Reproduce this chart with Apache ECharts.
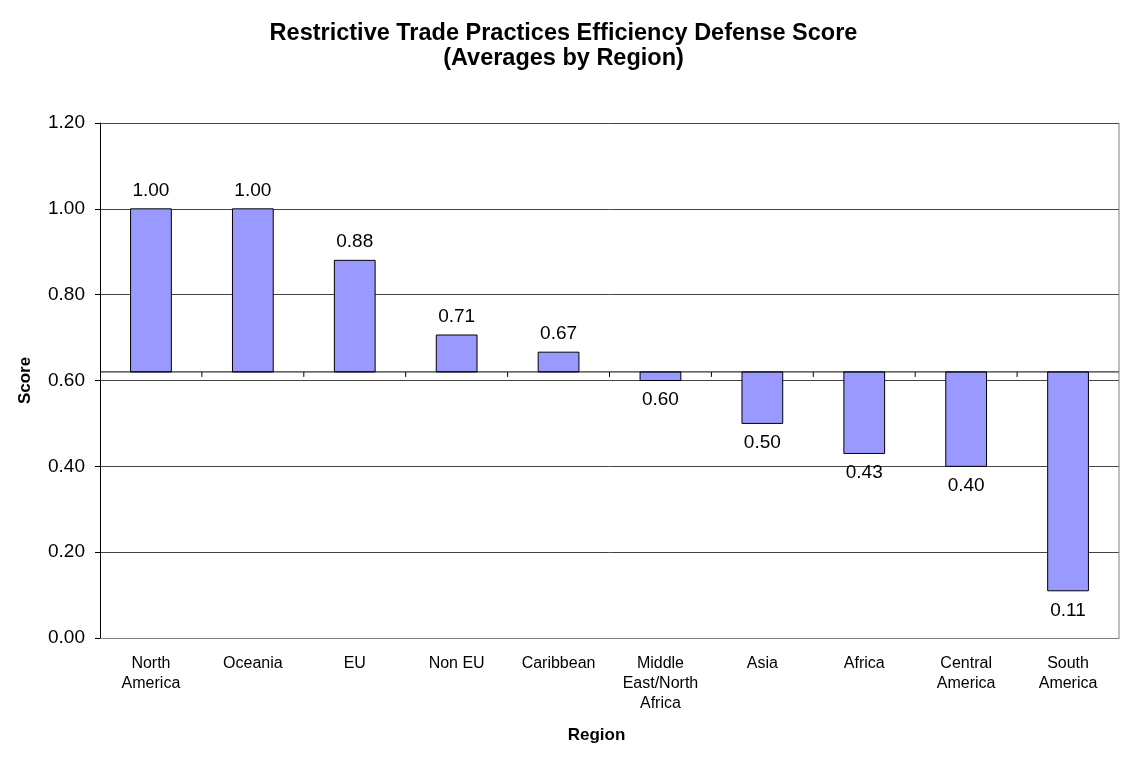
<!DOCTYPE html>
<html>
<head>
<meta charset="utf-8">
<title>Restrictive Trade Practices Efficiency Defense Score</title>
<script src="https://cdn.jsdelivr.net/npm/echarts@6/dist/echarts.min.js"></script>
<style>
  html, body { margin: 0; padding: 0; background: #fff; }
  #chart { width: 1127px; height: 761px; }
</style>
</head>
<body>
<div id="chart"></div>
<script>
// data
const regions = ['North\nAmerica', 'Oceania', 'EU', 'Non EU', 'Caribbean',
  'Middle\nEast/North\nAfrica', 'Asia', 'Africa', 'Central\nAmerica', 'South\nAmerica']
const scores = [1.00, 1.00, 0.88, 0.706, 0.666, 0.60, 0.50, 0.43, 0.40, 0.11]
// the category axis crosses the value axis here, bars hang from it
const crossAt = 0.62
const yTicks = [0, 0.2, 0.4, 0.6, 0.8, 1.0, 1.2]

const font = '"Liberation Sans", Arial, sans-serif'

const chart = echarts.init(document.getElementById('chart'))

function renderBar(params, api) {
  const cat = api.value(0)
  const val = api.value(1)
  const end = api.coord([cat, val])
  const base = api.coord([cat, crossAt])
  const band = api.size([1, 0])[0]
  const w = band * 0.4
  const up = val >= crossAt
  const children = [
    {
      type: 'rect',
      shape: { x: end[0] - w / 2, y: Math.min(end[1], base[1]), width: w, height: Math.abs(end[1] - base[1]) },
      style: { fill: '#9999ff', stroke: '#000', lineWidth: 1 }
    },
    {
      type: 'line',
      shape: { x1: base[0] - band / 2, y1: base[1], x2: base[0] + band / 2, y2: base[1] },
      style: { stroke: '#000', lineWidth: 1 }
    },
    {
      type: 'text',
      style: {
        x: end[0],
        y: up ? end[1] - 9 : end[1] + 10,
        text: scores[params.dataIndex].toFixed(2),
        fill: '#000',
        font: '19px ' + font,
        align: 'center',
        verticalAlign: up ? 'bottom' : 'top'
      }
    }
  ]
  if (params.dataIndex < regions.length - 1) {
    children.push({
      type: 'line',
      shape: { x1: base[0] + band / 2, y1: base[1], x2: base[0] + band / 2, y2: base[1] + 5 },
      style: { stroke: '#000', lineWidth: 1 }
    })
  }
  return { type: 'group', children: children }
}

const option = {
  animation: false,
  backgroundColor: '#fff',
  title: {
    text: 'Restrictive Trade Practices Efficiency Defense Score\n(Averages by Region)',
    left: 'center',
    top: 16,
    textStyle: { fontFamily: font, fontSize: 23.5, fontWeight: 'bold', lineHeight: 25, color: '#000' }
  },
  grid: { left: 100, right: 8, top: 123, bottom: 123, containLabel: false },
  xAxis: {
    type: 'category',
    data: regions,
    name: 'Region',
    nameLocation: 'middle',
    nameGap: 89,
    nameTextStyle: { fontFamily: font, fontSize: 17, fontWeight: 'bold', color: '#000', padding: [0, 26, 0, 0] },
    axisLine: { onZero: false, lineStyle: { color: '#808080', width: 1 } },
    axisTick: { show: false },
    axisLabel: {
      interval: 0,
      margin: 16,
      lineHeight: 20,
      fontFamily: font,
      fontSize: 16,
      color: '#000'
    }
  },
  yAxis: {
    type: 'value',
    min: yTicks[0],
    max: yTicks[yTicks.length - 1],
    interval: 0.2,
    name: 'Score',
    nameLocation: 'middle',
    nameGap: 66,
    nameTextStyle: { fontFamily: font, fontSize: 17, fontWeight: 'bold', color: '#000' },
    axisLine: { show: true, lineStyle: { color: '#000', width: 1 } },
    axisTick: { show: true, length: 5, lineStyle: { color: '#000' } },
    axisLabel: {
      margin: 15,
      fontFamily: font,
      fontSize: 19,
      color: '#000',
      formatter: v => v.toFixed(2)
    },
    splitLine: { show: true, lineStyle: { color: '#444', width: 1 } }
  },
  series: [{
    type: 'custom',
    renderItem: renderBar,
    data: scores.map((s, i) => [i, s]),
    z: 5
  }]
}

chart.setOption(option)

// right border of the plot area, Excel style
const rect = chart.getModel().getComponent('grid', 0).coordinateSystem.getRect()
chart.setOption({
  graphic: [{
    type: 'line',
    shape: { x1: rect.x + rect.width, y1: rect.y, x2: rect.x + rect.width, y2: rect.y + rect.height },
    style: { stroke: '#808080', lineWidth: 1 },
    z: 10
  }]
})
</script>
</body>
</html>
